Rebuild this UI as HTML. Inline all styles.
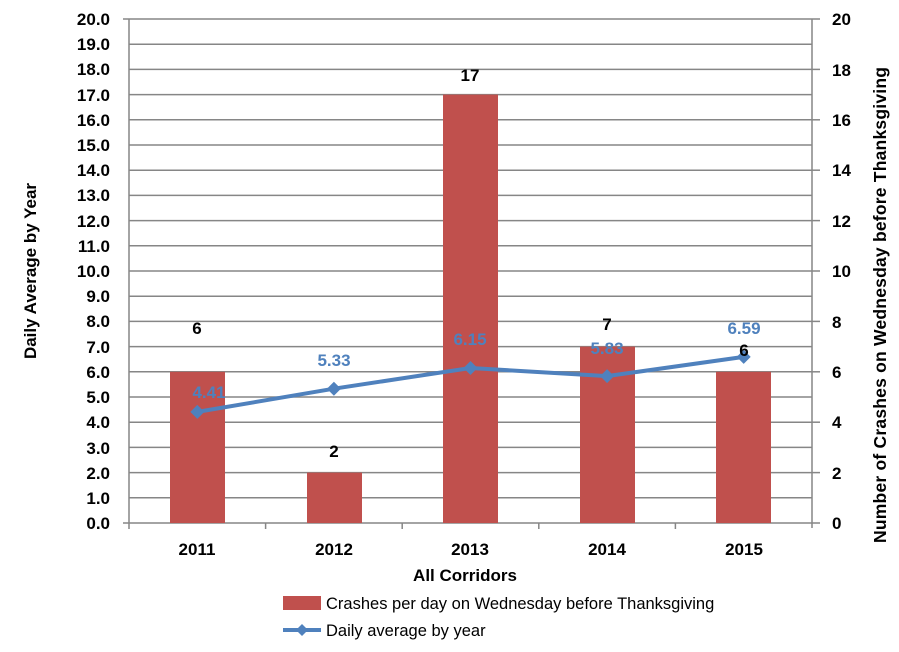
<!DOCTYPE html>
<html><head><style>body{margin:0;background:#fff}svg{display:block;font-family:"Liberation Sans",Arial,sans-serif}</style></head><body>
<svg width="899" height="652" xmlns="http://www.w3.org/2000/svg">
<g stroke="#868686" stroke-width="1.5">
<line x1="129" y1="19" x2="812" y2="19"/><line x1="129" y1="44.2" x2="812" y2="44.2"/><line x1="129" y1="69.4" x2="812" y2="69.4"/><line x1="129" y1="94.6" x2="812" y2="94.6"/><line x1="129" y1="119.8" x2="812" y2="119.8"/><line x1="129" y1="145" x2="812" y2="145"/><line x1="129" y1="170.2" x2="812" y2="170.2"/><line x1="129" y1="195.4" x2="812" y2="195.4"/><line x1="129" y1="220.6" x2="812" y2="220.6"/><line x1="129" y1="245.8" x2="812" y2="245.8"/><line x1="129" y1="271" x2="812" y2="271"/><line x1="129" y1="296.2" x2="812" y2="296.2"/><line x1="129" y1="321.4" x2="812" y2="321.4"/><line x1="129" y1="346.6" x2="812" y2="346.6"/><line x1="129" y1="371.8" x2="812" y2="371.8"/><line x1="129" y1="397" x2="812" y2="397"/><line x1="129" y1="422.2" x2="812" y2="422.2"/><line x1="129" y1="447.4" x2="812" y2="447.4"/><line x1="129" y1="472.6" x2="812" y2="472.6"/><line x1="129" y1="497.8" x2="812" y2="497.8"/><line x1="123" y1="523" x2="820" y2="523"/>
<line x1="129" y1="19" x2="129" y2="523"/><line x1="812" y1="19" x2="812" y2="528"/>
<line x1="123" y1="19" x2="129" y2="19"/>
<line x1="812" y1="19" x2="820" y2="19"/><line x1="812" y1="69.4" x2="820" y2="69.4"/><line x1="812" y1="119.8" x2="820" y2="119.8"/><line x1="812" y1="170.2" x2="820" y2="170.2"/><line x1="812" y1="220.6" x2="820" y2="220.6"/><line x1="812" y1="271" x2="820" y2="271"/><line x1="812" y1="321.4" x2="820" y2="321.4"/><line x1="812" y1="371.8" x2="820" y2="371.8"/><line x1="812" y1="422.2" x2="820" y2="422.2"/><line x1="812" y1="472.6" x2="820" y2="472.6"/>
<line x1="129" y1="523" x2="129" y2="529"/><line x1="265.6" y1="523" x2="265.6" y2="529"/><line x1="402.2" y1="523" x2="402.2" y2="529"/><line x1="538.8" y1="523" x2="538.8" y2="529"/><line x1="675.4" y1="523" x2="675.4" y2="529"/>
</g>
<g fill="#c0504d">
<rect x="170" y="371.8" width="55" height="151.2"/>
<rect x="307" y="472.6" width="55" height="50.4"/>
<rect x="443" y="94.6" width="55" height="428.4"/>
<rect x="580" y="346.6" width="55" height="176.4"/>
<rect x="716" y="371.8" width="55" height="151.2"/>
</g>
<polyline points="197.3,411.9 333.9,388.7 470.5,368 607.1,376.1 743.7,356.9" fill="none" stroke="#4f81bd" stroke-width="4"/>
<g fill="#4f81bd">
<path d="M197.3,404.9l7,7l-7,7l-7-7z"/><path d="M333.9,381.7l7,7l-7,7l-7-7z"/><path d="M470.5,361l7,7l-7,7l-7-7z"/><path d="M607.1,369.1l7,7l-7,7l-7-7z"/><path d="M743.7,349.9l7,7l-7,7l-7-7z"/>
</g>
<g font-size="17" font-weight="bold" text-anchor="end" fill="#000">
<text x="110" y="25">20.0</text><text x="110" y="50">19.0</text><text x="110" y="75">18.0</text><text x="110" y="101">17.0</text><text x="110" y="126">16.0</text><text x="110" y="151">15.0</text><text x="110" y="176">14.0</text><text x="110" y="201">13.0</text><text x="110" y="227">12.0</text><text x="110" y="252">11.0</text><text x="110" y="277">10.0</text><text x="110" y="302">9.0</text><text x="110" y="327">8.0</text><text x="110" y="353">7.0</text><text x="110" y="378">6.0</text><text x="110" y="403">5.0</text><text x="110" y="428">4.0</text><text x="110" y="454">3.0</text><text x="110" y="479">2.0</text><text x="110" y="504">1.0</text><text x="110" y="529">0.0</text>
</g>
<g font-size="17" font-weight="bold" text-anchor="start">
<text x="832" y="25">20</text><text x="832" y="76">18</text><text x="832" y="126">16</text><text x="832" y="176">14</text><text x="832" y="227">12</text><text x="832" y="277">10</text><text x="832" y="328">8</text><text x="832" y="378">6</text><text x="832" y="428">4</text><text x="832" y="479">2</text><text x="832" y="529">0</text>
</g>
<g font-size="17" font-weight="bold" text-anchor="middle">
<text x="197" y="555">2011</text><text x="334" y="555">2012</text><text x="470" y="555">2013</text><text x="607" y="555">2014</text><text x="744" y="555">2015</text>
<text x="465" y="581">All Corridors</text>
<text x="197" y="334">6</text><text x="334" y="457">2</text><text x="470" y="81">17</text><text x="607" y="330">7</text><text x="744" y="356">6</text>
</g>
<g font-size="17" font-weight="bold" text-anchor="middle" fill="#4f81bd">
<text x="209" y="398">4.41</text><text x="334" y="366">5.33</text><text x="470" y="345">6.15</text><text x="607" y="354">5.83</text><text x="744" y="334">6.59</text>
</g>
<text transform="translate(36,271) rotate(-90)" font-size="17" font-weight="bold" text-anchor="middle">Daily Average by Year</text>
<text transform="translate(886,305) rotate(-90)" font-size="17.5" font-weight="bold" text-anchor="middle" textLength="476">Number of Crashes on Wednesday before Thanksgiving</text>
<rect x="283" y="596" width="38" height="14" fill="#c0504d"/>
<text x="326" y="609" font-size="16.5">Crashes per day on Wednesday before Thanksgiving</text>
<line x1="283" y1="630" x2="321" y2="630" stroke="#4f81bd" stroke-width="4"/>
<path d="M302,624l6,6l-6,6l-6-6z" fill="#4f81bd"/>
<text x="326" y="636" font-size="16.5">Daily average by year</text>
</svg>
</body></html>
